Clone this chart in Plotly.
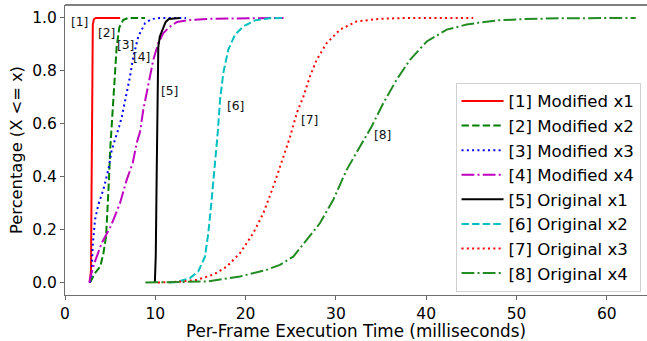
import plotly.graph_objects as go

# ---- data ----
names = ["[1] Modified x1", "[2] Modified x2", "[3] Modified x3", "[4] Modified x4",
         "[5] Original x1", "[6] Original x2", "[7] Original x3", "[8] Original x4"]
labels = ["[1]", "[2]", "[3]", "[4]", "[5]", "[6]", "[7]", "[8]"]

m1_x = [2.75, 2.88, 2.93, 2.98, 3.03, 3.08, 3.2, 3.4, 6.1]
m1_y = [0, 0.05, 0.3, 0.6, 0.9, 0.975, 0.995, 1.0, 1.0]

m2_x = [2.77, 3.3, 3.9, 4.25, 4.55, 4.7, 4.87, 5.0, 5.15, 5.3, 5.46, 5.72, 6.02, 6.46, 7.0, 8.86]
m2_y = [0, 0.035, 0.06, 0.11, 0.175, 0.26, 0.39, 0.5, 0.58, 0.66, 0.78, 0.89, 0.965, 0.993, 1.0, 1.0]

m3_x = [2.75, 2.85, 2.95, 3.06, 3.32, 3.69, 4.24, 4.8, 5.17, 5.65, 6.0, 6.3, 6.83, 7.2, 7.57, 8.12,
        8.86, 9.6, 10.5, 13.4]
m3_y = [0, 0.01, 0.03, 0.136, 0.237, 0.294, 0.35, 0.426, 0.5, 0.55, 0.59, 0.628, 0.716, 0.779, 0.855,
        0.93, 0.98, 0.996, 1.0, 1.0]

m4_x = [2.7, 2.8, 3.25, 4.06, 5.1, 6.09, 6.83, 7.5, 7.94, 8.31, 8.67, 9.22, 9.78, 10.33, 10.89,
        11.55, 12.4, 14.0, 16.0, 24.2]
m4_y = [0, 0.02, 0.073, 0.149, 0.215, 0.30, 0.388, 0.452, 0.527, 0.57, 0.653, 0.754, 0.842, 0.905,
        0.943, 0.965, 0.985, 0.993, 0.997, 1.0]

o1_x = [9.95, 10.05, 10.15, 10.25, 10.33, 10.5, 10.7, 10.95, 11.15, 11.5, 12.7]
o1_y = [0, 0.1, 0.4, 0.7, 0.89, 0.93, 0.945, 0.965, 0.985, 0.996, 1.0]

o2_x = [11.5, 12.5, 13.84, 14.76, 15.5, 15.87, 16.24, 16.61, 16.91, 17.17, 17.53, 18.08, 18.83,
        19.74, 21.04, 22.7, 24.2]
o2_y = [0, 0.003, 0.017, 0.042, 0.098, 0.187, 0.313, 0.439, 0.565, 0.69, 0.792, 0.88, 0.937,
        0.968, 0.991, 0.999, 1.0]

o3_x = [10.3, 12.5, 14.58, 16.42, 17.9, 19.38, 20.85, 21.96, 23.07, 24.0, 24.92, 25.66, 26.4,
        27.13, 27.87, 28.98, 30.45, 32.3, 34.9, 38.0, 45.2]
o3_y = [0, 0.003, 0.01, 0.03, 0.06, 0.111, 0.187, 0.262, 0.363, 0.455, 0.55, 0.64, 0.703, 0.779,
        0.842, 0.905, 0.956, 0.987, 0.997, 1.0, 1.0]

o4_x = [8.9, 12.0, 15.7, 19.38, 22.33, 23.8, 25.28, 26.76, 28.24, 29.71, 31.19, 32.67, 33.96,
        35.25, 36.73, 38.2, 40.06, 42.27, 44.48, 45.96, 48.0, 51.0, 55.0, 63.2]
o4_y = [0, 0.001, 0.004, 0.023, 0.048, 0.067, 0.098, 0.161, 0.225, 0.313, 0.426, 0.514, 0.59,
        0.678, 0.767, 0.842, 0.911, 0.956, 0.975, 0.983, 0.991, 0.996, 0.999, 1.0]

# label anchor positions (data coords)
label_x = [1.66, 4.62, 6.72, 8.42, 11.52, 18.9, 27.1, 35.18]
label_y = [0.986, 0.943, 0.899, 0.852, 0.725, 0.668, 0.613, 0.559]

xs = [m1_x, m2_x, m3_x, m4_x, o1_x, o2_x, o3_x, o4_x]
ys = [m1_y, m2_y, m3_y, m4_y, o1_y, o2_y, o3_y, o4_y]

# ---- styles ----
DASHED = "7.4px,3.2px"
DOTTED = "2px,3.3px"
DASHDOT = "12.8px,3.2px,2px,3.2px"
colors = ["#FF0000", "#008000", "#0000FF", "#BF00BF", "#000000", "#00BFBF", "#FF0000", "#228B22"]
dashes = ["solid", DASHED, DOTTED, DASHDOT, "solid", DASHED, DOTTED, DASHDOT]

FONT = "DejaVu Sans"

fig = go.Figure()
for i in range(8):
    fig.add_trace(go.Scatter(
        x=xs[i], y=ys[i], mode="lines", name=names[i],
        line=dict(color=colors[i], width=2, dash=dashes[i]),
    ))

for i in range(8):
    fig.add_annotation(x=label_x[i], y=label_y[i], text=labels[i], showarrow=False,
                       font=dict(family=FONT, size=12.3, color="#111111"),
                       xanchor="center", yanchor="middle")

# top spine
fig.add_shape(type="line", xref="paper", yref="paper", x0=0, x1=1, y0=1, y1=1,
              line=dict(color="black", width=1.2))

fig.update_layout(
    width=647, height=341,
    margin=dict(l=65, r=0, t=5, b=46),
    paper_bgcolor="white", plot_bgcolor="white",
    font=dict(family=FONT, size=15, color="black"),
    showlegend=True,
    legend=dict(
        x=0.671, y=0.732, xanchor="left", yanchor="top",
        bgcolor="white", bordercolor="#d0d0d0", borderwidth=1,
        font=dict(family=FONT, size=16.6, color="black"),
        itemwidth=42,
    ),
    xaxis=dict(
        range=[0, 64.45], tickmode="array", tickvals=[0, 10, 20, 30, 40, 50, 60],
        ticks="outside", ticklen=4, tickcolor="#666666", tickwidth=1,
        showline=True, linecolor="#6e6e6e", linewidth=1.2,
        showgrid=False, zeroline=False,
        tickfont=dict(family=FONT, size=15.5),
        title=dict(text="Per-Frame Execution Time (milliseconds)",
                   font=dict(family=FONT, size=16.8), standoff=3),
    ),
    yaxis=dict(
        range=[-0.047, 1.049], tickmode="array", tickvals=[0, 0.2, 0.4, 0.6, 0.8, 1.0],
        ticktext=["0.0", "0.2", "0.4", "0.6", "0.8", "1.0"],
        ticks="outside", ticklen=4, tickcolor="#666666", tickwidth=1,
        showline=True, linecolor="#6e6e6e", linewidth=1.2,
        showgrid=False, zeroline=False,
        tickfont=dict(family=FONT, size=15.5),
        title=dict(text="Percentage (X <= x)", font=dict(family=FONT, size=16.3), standoff=5),
    ),
)

fig.write_html("out.html")
